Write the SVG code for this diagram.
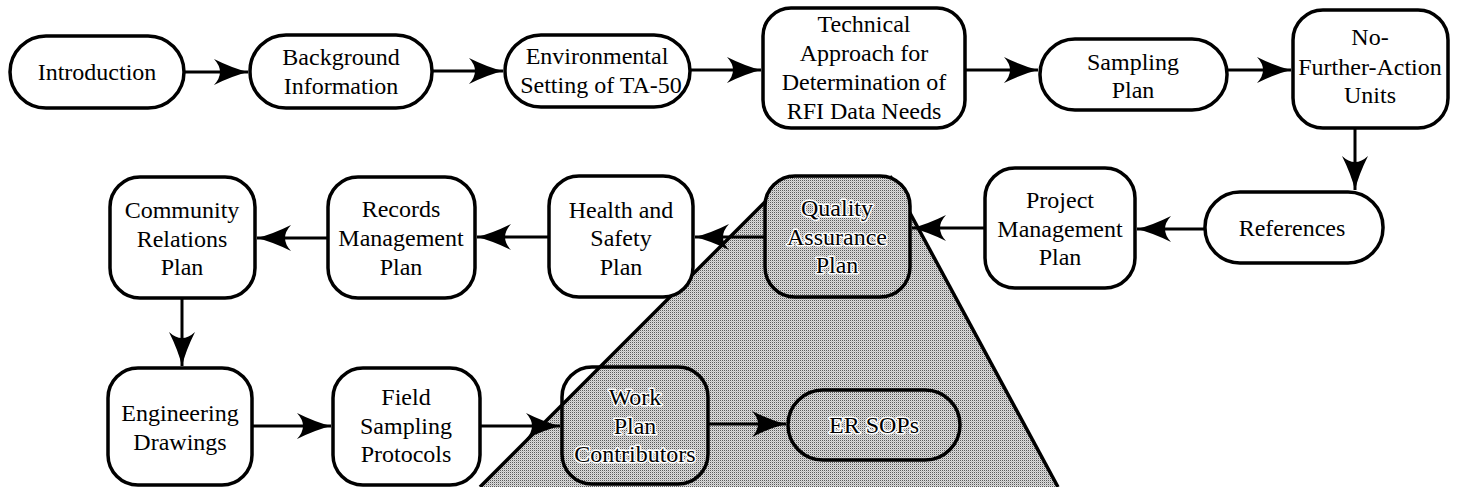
<svg xmlns="http://www.w3.org/2000/svg" width="1459" height="487" viewBox="0 0 1459 487">
<style>
.box{fill:#fff;stroke:#000;stroke-width:3.5}
.sh{fill:url(#dots);stroke:#000;stroke-width:3.5}
.tr{fill:none;stroke:#000;stroke-width:3.5}
text{font-family:'Liberation Serif','Times New Roman','DejaVu Serif',serif;font-size:24px;text-anchor:middle;fill:#000}
.halo{stroke:#fff;stroke-width:3;paint-order:stroke;stroke-linejoin:round}
.c{fill:none;stroke:#000;stroke-width:3;marker-end:url(#ah)}
.edge{fill:none;stroke:#000;stroke-width:3.5}
</style>
<defs>
<pattern id="dots" width="2" height="2" patternUnits="userSpaceOnUse">
<rect width="2" height="2" fill="#dcdcdc"/>
<rect width="1" height="1" fill="#5a5a5a"/>
<rect x="1" y="1" width="1" height="1" fill="#bcbcbc"/>
</pattern>
<marker id="ah" markerUnits="userSpaceOnUse" viewBox="-36 -15 38 30" markerWidth="38" markerHeight="30" refX="0" refY="0" orient="auto">
<path d="M0,0 Q-16,-4 -34,-13 Q-22,0 -34,13 Q-16,4 0,0 Z" fill="#000"/>
</marker>
</defs>
<g id="shade">
<polygon points="791,176 890,176 1058,487 480,487" fill="url(#dots)"/>
<line class="edge" x1="791" y1="176" x2="480" y2="487"/>
<line class="edge" x1="890" y1="176" x2="1058" y2="487"/>
</g>
<g id="introduction"><rect class="box" x="10" y="36" width="174" height="72" rx="36"/><text x="97" y="80">Introduction</text></g>
<g id="background"><rect class="box" x="250" y="35" width="182" height="73" rx="36"/><text x="341" y="65">Background</text><text x="341" y="94">Information</text></g>
<g id="environmental"><rect class="box" x="505" y="35" width="185" height="72" rx="36"/><text x="597" y="64">Environmental</text><text x="601" y="93">Setting of TA-50</text></g>
<g id="technical"><rect class="box" x="763" y="8" width="202" height="120" rx="28"/><text x="864" y="32">Technical</text><text x="864" y="61">Approach for</text><text x="864" y="90">Determination of</text><text x="864" y="119">RFI Data Needs</text></g>
<g id="sampling"><rect class="box" x="1040" y="39" width="187" height="71" rx="35"/><text x="1133" y="70">Sampling</text><text x="1133" y="98">Plan</text></g>
<g id="nfa"><rect class="box" x="1293" y="10" width="155" height="118" rx="30"/><text x="1370" y="45">No-</text><text x="1370" y="75">Further-Action</text><text x="1370" y="103">Units</text></g>
<g id="references"><rect class="box" x="1205" y="192" width="178" height="71" rx="35"/><text x="1292" y="236">References</text></g>
<g id="project"><rect class="box" x="985" y="168" width="150" height="120" rx="30"/><text x="1060" y="208">Project</text><text x="1060" y="237">Management</text><text x="1060" y="265">Plan</text></g>
<g id="qa"><rect class="sh" x="765" y="176" width="145" height="121" rx="30"/><text class="halo" x="837" y="216">Quality</text><text class="halo" x="837" y="245">Assurance</text><text class="halo" x="837" y="273">Plan</text></g>
<g id="health"><rect class="box" x="549" y="176" width="144" height="121" rx="30"/><text x="621" y="218">Health and</text><text x="621" y="246">Safety</text><text x="621" y="275">Plan</text></g>
<g id="records"><rect class="box" x="328" y="177" width="147" height="121" rx="30"/><text x="401" y="217">Records</text><text x="401" y="246">Management</text><text x="401" y="275">Plan</text></g>
<g id="community"><rect class="box" x="110" y="177" width="145" height="121" rx="30"/><text x="182" y="218">Community</text><text x="182" y="247">Relations</text><text x="182" y="275">Plan</text></g>
<g id="engineering"><rect class="box" x="108" y="368" width="144" height="117" rx="30"/><text x="180" y="421">Engineering</text><text x="180" y="450">Drawings</text></g>
<g id="field"><rect class="box" x="333" y="368" width="147" height="117" rx="30"/><text x="406" y="405">Field</text><text x="406" y="434">Sampling</text><text x="406" y="462">Protocols</text></g>
<g id="work"><rect class="tr" x="562" y="367" width="146" height="117" rx="30"/><text class="halo" x="635" y="405">Work</text><text class="halo" x="635" y="434">Plan</text><text class="halo" x="635" y="462">Contributors</text></g>
<g id="ersops"><rect class="tr" x="788" y="390" width="172" height="70" rx="35"/><text class="halo" x="874" y="433">ER SOPs</text></g>
<g id="connectors">
<path class="c" d="M184,72 H248"/>
<path class="c" d="M432,71 H503"/>
<path class="c" d="M690,70 H761"/>
<path class="c" d="M965,70 H1038"/>
<path class="c" d="M1227,70 H1291"/>
<path class="c" d="M1355,128 V190"/>
<path class="c" d="M1205,229 H1137"/>
<path class="c" d="M985,228 H912"/>
<path class="c" d="M765,237 H695"/>
<path class="c" d="M549,237 H477"/>
<path class="c" d="M328,238 H257"/>
<path class="c" d="M182,298 V366"/>
<path class="c" d="M252,426 H331"/>
<path class="c" d="M480,426 H560"/>
<path class="c" d="M708,424 H786"/>
</g>
</svg>
